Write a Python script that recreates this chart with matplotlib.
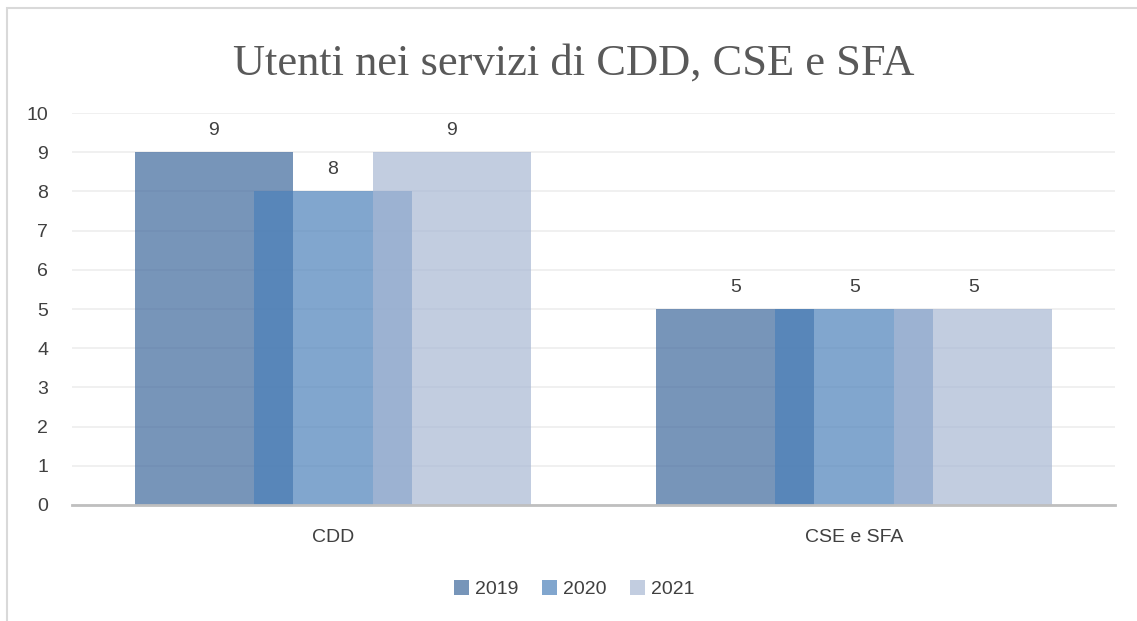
import matplotlib.pyplot as plt
import numpy as np
from matplotlib.patches import Rectangle

categories = ["CDD", "CSE e SFA"]
years = ["2019", "2020", "2021"]
values_2019 = [9, 5]
values_2020 = [8, 5]
values_2021 = [9, 5]

colors = ["#3E689C", "#4C81BA", "#A8B8D4"]
text_color = "#595959"
label_color = "#404040"
font = "Liberation Sans"

fig = plt.figure(figsize=(11.37, 6.21), dpi=100)
ax = fig.add_axes([0.0633, 0.1868, 0.9174, 0.6312])

# light frame around the chart area
fig.patches.append(Rectangle((7 / 1137, -0.1), 1.2, 1 - 8 / 621 + 0.1,
                             transform=fig.transFigure, fill=False,
                             edgecolor="#D9D9D9", linewidth=1.5))

x = np.arange(len(categories))
width = 0.303
step = 0.228

for i, (year, vals) in enumerate(zip(years, [values_2019, values_2020, values_2021])):
    pos = x + (i - 1) * step
    bars = ax.bar(pos, vals, width, color=colors[i], alpha=0.7, label=year,
                  linewidth=0, zorder=2 + i)
    for b, v in zip(bars, vals):
        ax.text(b.get_x() + b.get_width() / 2, v + 0.33, str(v), ha="center",
                va="bottom", fontsize=14, color=label_color, family=font)

ax.set_xlim(-0.5, 1.5)
ax.set_ylim(0, 10)
ax.set_yticks(range(0, 11))
ax.yaxis.grid(True, color="#EDEDED", linewidth=1.2, zorder=0)
ax.set_axisbelow(True)
for s in ["top", "right", "left"]:
    ax.spines[s].set_visible(False)
ax.spines["bottom"].set_color("#BFBFBF")
ax.spines["bottom"].set_linewidth(2)
ax.spines["bottom"].set_zorder(10)

ax.set_xticks(x)
ax.set_xticklabels(categories)
ax.tick_params(axis="both", length=0, labelsize=14, colors=label_color)
ax.tick_params(axis="y", pad=17)
ax.tick_params(axis="x", pad=17)
for lbl in ax.get_xticklabels() + ax.get_yticklabels():
    lbl.set_family(font)

fig.text(0.505, 0.897, "Utenti nei servizi di CDD, CSE e SFA", ha="center",
         va="center", fontsize=32, color=text_color, family="Liberation Serif")

leg = fig.legend(loc="center", bbox_to_anchor=(0.505, 0.051), ncol=3,
                 frameon=False, handlelength=0.8, handleheight=0.8,
                 handletextpad=0.3, columnspacing=1.2,
                 prop={"family": font, "size": 14})
for t in leg.get_texts():
    t.set_color(label_color)

plt.savefig("out.png", dpi=100)
